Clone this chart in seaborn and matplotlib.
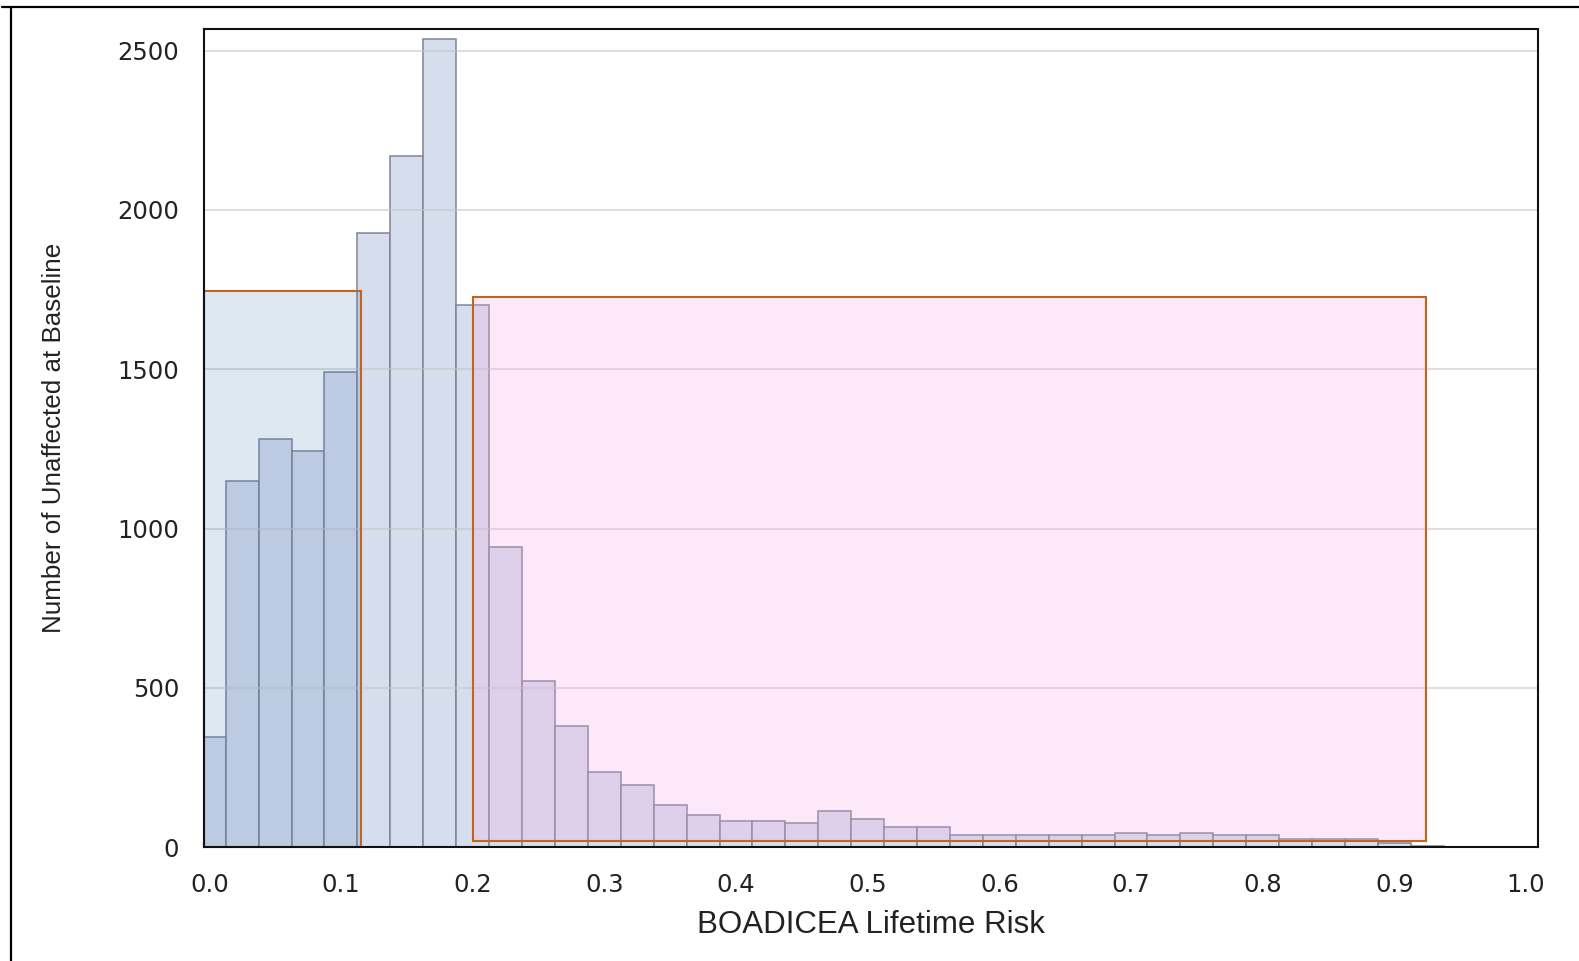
import numpy as np
import pandas as pd
import matplotlib
matplotlib.use("Agg")
import matplotlib.pyplot as plt
from matplotlib.patches import Rectangle
from matplotlib.lines import Line2D
from matplotlib import font_manager as fm
import seaborn as sns

# ---- data ----
bin_width = 0.025
bin_centers = [round(0.025 * k, 4) for k in range(38)]
counts = [347, 1148, 1281, 1243, 1490, 1929, 2168, 2537, 1702, 943,
          522, 380, 237, 196, 133, 101, 83, 83, 75, 114,
          88, 63, 63, 40, 40, 40, 40, 40, 46, 40,
          46, 40, 40, 25, 25, 25, 13, 5]
x_ticks = [0.0, 0.1, 0.2, 0.3, 0.4, 0.5, 0.6, 0.7, 0.8, 0.9, 1.0]
x_tick_labels = ["0.0", "0.1", "0.2", "0.3", "0.4", "0.5", "0.6", "0.7", "0.8", "0.9", "1.0"]
y_ticks = [0, 500, 1000, 1500, 2000, 2500]
low_zone = dict(x0=-0.004, x1=0.1155, y0=0, y1=1746)
high_zone = dict(x0=0.2, x1=0.924, y0=20, y1=1726)
x_label = "BOADICEA Lifetime Risk"
y_label = "Number of Unaffected at Baseline"

df = pd.DataFrame({"risk": bin_centers, "n": counts})
edges = [c - bin_width / 2 for c in bin_centers] + [bin_centers[-1] + bin_width / 2]

sns.set_style("white")
plt.rcParams["font.family"] = ["DejaVu Sans"]
names = {f.name for f in fm.fontManager.ttflist}
if "Liberation Sans Narrow" in names:
    ylab_family, ylab_size = ["Liberation Sans Narrow", "Liberation Sans"], 22.5
else:
    ylab_family, ylab_size = ["Liberation Sans"], 18.7

fig = plt.figure(figsize=(15.79, 9.61), dpi=100)
ax = fig.add_axes([204 / 1579, 1 - 847.3 / 961, (1537.5 - 204) / 1579, (847.3 - 29.3) / 961])

sns.histplot(data=df, x="risk", weights="n", bins=edges, ax=ax,
             color="#d6ddec", edgecolor="#7f8594", linewidth=1.1, alpha=1.0, zorder=1)

ax.set_xlim(-0.004, 1.0087)
ax.set_ylim(0, 2567)

for yv in y_ticks[1:]:
    ax.axhline(yv, color="#c4c4c4", lw=1.1, alpha=0.7, zorder=2)

ax.add_patch(Rectangle((low_zone["x0"], low_zone["y0"]), low_zone["x1"] - low_zone["x0"],
                       low_zone["y1"] - low_zone["y0"],
                       facecolor=(60 / 255, 120 / 255, 180 / 255, 0.17),
                       edgecolor="#c2651b", linewidth=1.5, zorder=3, clip_on=False))
ax.add_patch(Rectangle((high_zone["x0"], high_zone["y0"]), high_zone["x1"] - high_zone["x0"],
                       high_zone["y1"] - high_zone["y0"],
                       facecolor=(247 / 255, 167 / 255, 235 / 255, 0.25),
                       edgecolor="#c2651b", linewidth=1.5, zorder=3))

ax.set_xticks(x_ticks)
ax.set_xticklabels(x_tick_labels)
ax.set_yticks(y_ticks)
ax.tick_params(axis="both", direction="out", length=9, width=1.3, color="#222222",
               labelsize=17.5, labelcolor="#222222", pad=9)
ax.tick_params(axis="x", pad=9.5)
for s in ax.spines.values():
    s.set_color("#111111")
    s.set_linewidth(1.5)
    s.set_zorder(5)

ax.set_xlabel(x_label, family=["Liberation Sans"], fontsize=22.5, color="#222222")
ax.set_ylabel(y_label, family=ylab_family, fontsize=ylab_size, color="#222222")
ax.xaxis.set_label_coords((871 - 204) / 1333.5, (847.3 - 925) / 818)
ax.xaxis.label.set_va("center")
ax.yaxis.set_label_coords((54 - 204) / 1333.5, 0.5)
ax.yaxis.label.set_va("center")

# outer frame fragments (top and left border)
fig.add_artist(Line2D([2 / 1579, 1], [1 - 6.5 / 961, 1 - 6.5 / 961], transform=fig.transFigure,
                      color="black", lw=1.6))
fig.add_artist(Line2D([10.5 / 1579, 10.5 / 1579], [0, 1 - 6.5 / 961], transform=fig.transFigure,
                      color="black", lw=1.6))

fig.savefig("out.png", dpi=100)
